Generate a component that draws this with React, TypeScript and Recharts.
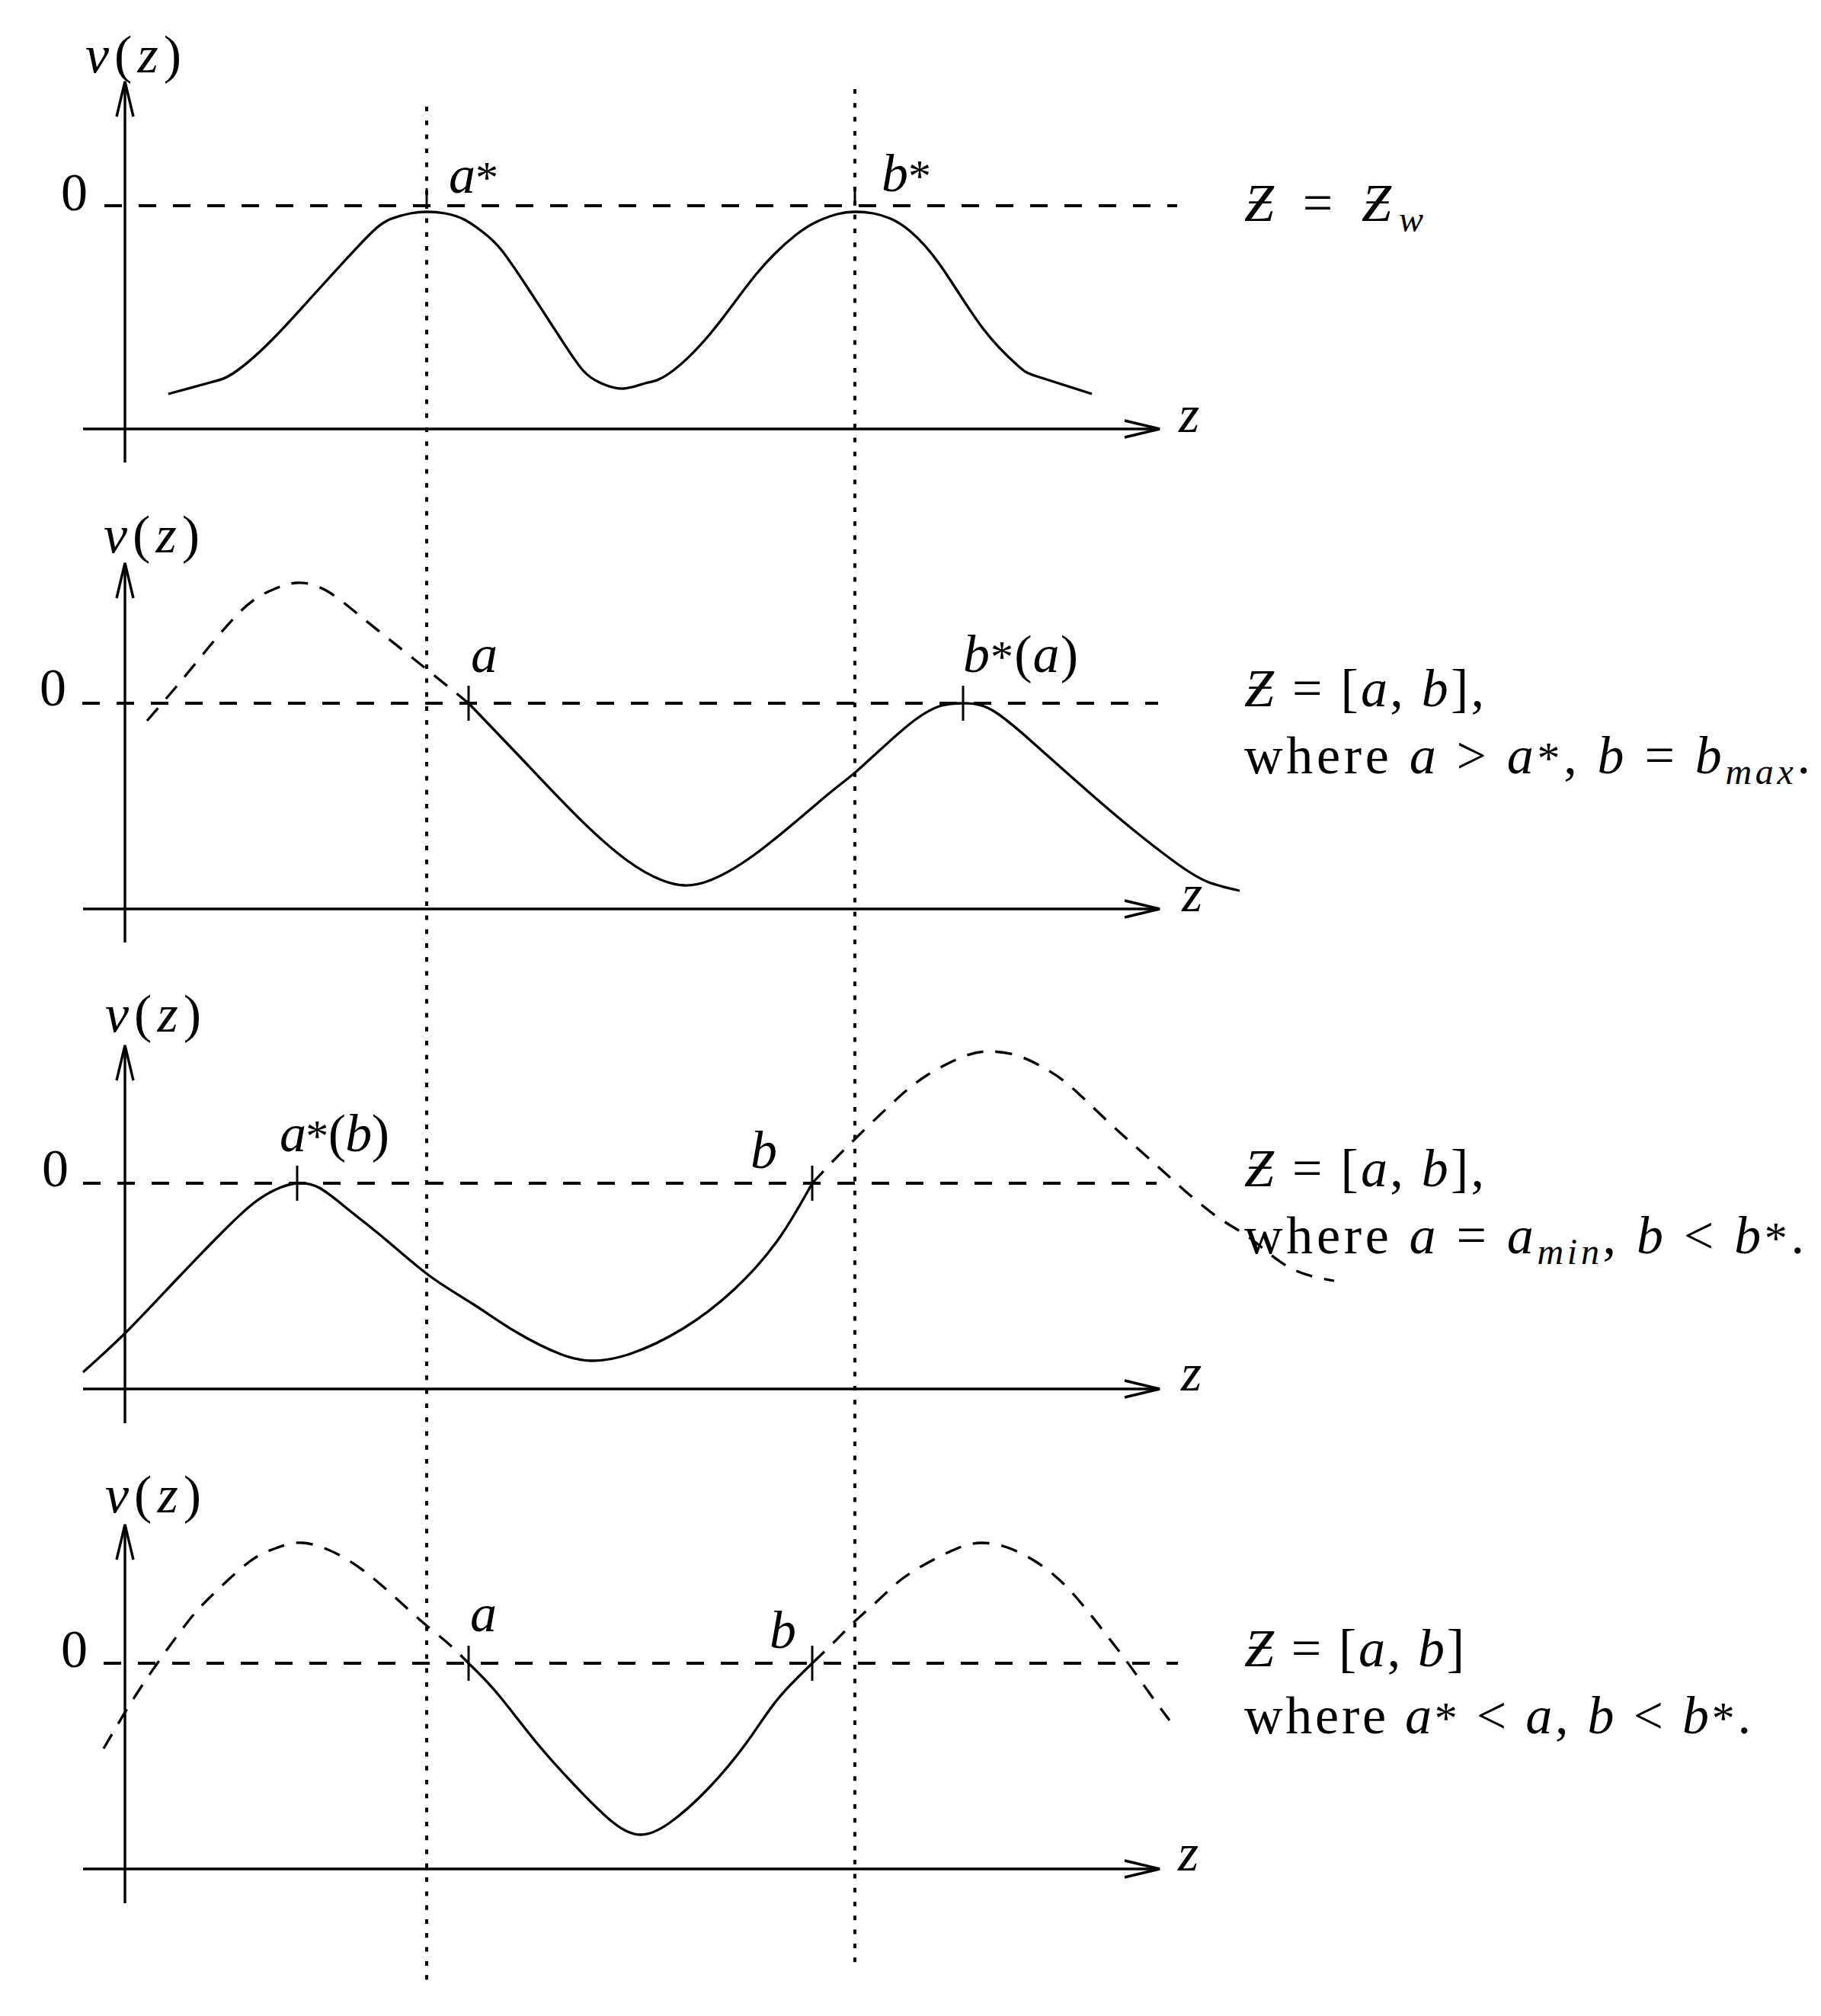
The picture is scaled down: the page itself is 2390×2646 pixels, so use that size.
import React from "react";
import { ComposedChart, Line, XAxis, YAxis, ReferenceLine } from "recharts";

const W = 2390;
const H = 2646;

// z runs along every panel, 0 sits on the v axis
const Z_MIN = -1.64;
const Z_MAX = 22.26;
// one vertical scale for the whole stack, panels are shifted by panelZero
const Y_MIN = -26.46;
const Y_MAX = 0;

const panelZero = [-2.7, -9.23, -15.53, -21.83];

const aStar = 3.96;
const bStar = 9.58;

// panel 1: Z = Z_w
const p1Z = [0.57, 1.12, 1.42, 1.88, 2.44, 2.85, 3.26, 3.5, 3.75, 3.97, 4.2, 4.45, 4.69, 4.94, 5.3, 5.71, 6.01, 6.25, 6.54, 6.83, 7.13, 7.69, 8.3, 8.81, 9.1, 9.35, 9.58, 9.82, 10.05, 10.3, 10.7, 11.26, 11.72, 11.97, 12.69];
const p1V = [-2.47, -2.32, -2.2, -1.81, -1.21, -0.76, -0.33, -0.17, -0.1, -0.08, -0.1, -0.18, -0.34, -0.58, -1.1, -1.73, -2.16, -2.33, -2.4, -2.33, -2.21, -1.67, -0.88, -0.38, -0.2, -0.11, -0.08, -0.1, -0.17, -0.33, -0.78, -1.61, -2.1, -2.24, -2.47];

// panel 2: a > a*, b = b_max
const p2DashZ = [0.29, 0.85, 1.51, 1.94, 2.26, 2.64, 3.13, 3.78, 4.51];
const p2DashV = [-0.23, 0.43, 1.2, 1.49, 1.58, 1.48, 1.11, 0.59, 0];
const p2Z = [4.51, 5.19, 5.95, 6.6, 7.04, 7.34, 7.69, 8.34, 9.21, 9.64, 10.29, 10.72, 11.0, 11.38, 11.92, 12.46, 13.11, 13.76, 14.2, 14.63];
const p2V = [0, -0.71, -1.5, -2.07, -2.32, -2.39, -2.32, -1.93, -1.21, -0.86, -0.28, -0.03, 0, -0.09, -0.52, -1.0, -1.56, -2.07, -2.34, -2.46];

// panel 3: a = a_min, b < b*
const p3Z = [-0.55, 0.02, 0.66, 1.23, 1.69, 2.03, 2.26, 2.55, 2.95, 3.41, 3.99, 4.56, 5.13, 5.71, 6.13, 6.63, 7.32, 8.0, 8.58, 9.02];
const p3V = [-2.48, -1.95, -1.28, -0.69, -0.26, -0.06, 0, -0.06, -0.36, -0.73, -1.21, -1.58, -1.95, -2.24, -2.33, -2.24, -1.91, -1.39, -0.73, 0];
const p3DashZ = [9.02, 9.44, 10.07, 10.53, 11.0, 11.33, 11.7, 12.05, 12.4, 12.88, 13.4, 13.8, 14.32, 14.78, 15.29, 15.87];
const p3DashV = [0, 0.44, 1.05, 1.42, 1.66, 1.73, 1.68, 1.52, 1.28, 0.83, 0.36, 0, -0.43, -0.73, -1.11, -1.28];

// panel 4: a* < a, b < b*
const p4DashLZ = [-0.28, 0.2, 0.76, 1.12, 1.63, 1.98, 2.34, 2.85, 3.36, 3.87, 4.23, 4.51];
const p4DashLV = [-1.12, -0.33, 0.46, 0.87, 1.33, 1.51, 1.58, 1.4, 1.03, 0.57, 0.27, 0];
const p4Z = [4.51, 4.89, 5.4, 5.91, 6.42, 6.78, 7.14, 7.65, 8.16, 8.56, 9.02];
const p4V = [0, -0.4, -1.04, -1.61, -2.1, -2.25, -2.1, -1.65, -1.04, -0.48, 0];
const p4DashRZ = [9.02, 9.31, 9.59, 9.89, 10.19, 10.54, 10.93, 11.24, 11.58, 11.96, 12.28, 12.54, 12.79, 13.03, 13.26, 13.48, 13.71];
const p4DashRV = [0, 0.28, 0.56, 0.83, 1.1, 1.32, 1.51, 1.58, 1.52, 1.33, 1.08, 0.8, 0.49, 0.18, -0.13, -0.44, -0.75];

// marked points on each zero line
const ticks = [
  [aStar, bStar],
  [4.51, 11.0],
  [2.26, 9.02],
  [4.51, 9.02],
];

const vAxisBottom = [-3.37, -3.14, -3.15, -3.15];
const vAxisTop = [1.63, 1.84, 1.81, 1.82];
const zAxisAt = [-2.93, -2.7, -2.7, -2.7];
const zeroFrom = [-0.27, -0.56, -0.55, -0.28];
const zeroTo = [13.81, 13.56, 13.54, 13.82];

const curves = [
  { panel: 0, z: p1Z, v: p1V, dashed: false },
  { panel: 1, z: p2DashZ, v: p2DashV, dashed: true },
  { panel: 1, z: p2Z, v: p2V, dashed: false },
  { panel: 2, z: p3Z, v: p3V, dashed: false },
  { panel: 2, z: p3DashZ, v: p3DashV, dashed: true },
  { panel: 3, z: p4DashLZ, v: p4DashLV, dashed: true },
  { panel: 3, z: p4Z, v: p4V, dashed: false },
  { panel: 3, z: p4DashRZ, v: p4DashRV, dashed: true },
];

const FONT = "'Liberation Serif', 'DejaVu Serif', 'Times New Roman', serif";
const SIZE = 70;

const px = (z: number) => ((z - Z_MIN) / (Z_MAX - Z_MIN)) * W;
const py = (y: number) => ((Y_MAX - y) / (Y_MAX - Y_MIN)) * H;

const arrowShape = (props: any) => {
  const { x1, y1, x2, y2 } = props;
  const dx = x2 - x1;
  const dy = y2 - y1;
  const len = Math.hypot(dx, dy) || 1;
  const ux = dx / len;
  const uy = dy / len;
  const back = 46;
  const half = 11;
  const bx = x2 - ux * back;
  const by = y2 - uy * back;
  const nx = -uy * half;
  const ny = ux * half;
  return (
    <g>
      <line x1={x1} y1={y1} x2={x2} y2={y2} stroke="#000" strokeWidth={3.4} />
      <path
        d={`M${bx + nx},${by + ny} L${x2},${y2} L${bx - nx},${by - ny}`}
        fill="none"
        stroke="#000"
        strokeWidth={3.4}
      />
    </g>
  );
};

const I = ({ children }: { children: React.ReactNode }) => (
  <tspan fontStyle="italic">{children}</tspan>
);
const Star = () => <tspan fontSize={60}>*</tspan>;

function Tex({
  panel,
  z,
  v,
  w,
  children,
}: {
  panel: number;
  z: number;
  v: number;
  w?: number;
  children: React.ReactNode;
}) {
  return (
    <text
      x={px(z)}
      y={py(panelZero[panel] + v)}
      fontFamily={FONT}
      fontSize={SIZE}
      fill="#000"
      style={{ whiteSpace: "pre" }}
      textLength={w}
      lengthAdjust={w ? "spacing" : undefined}
    >
      {children}
    </text>
  );
}

function Labels() {
  const vz = (p: number, z: number, v: number) => (
    <Tex panel={p} z={z} v={v} w={126}>
      <I>v</I>(<I>z</I>)
    </Tex>
  );
  const RZ = 14.69;
  return (
    <svg
      width={W}
      height={H}
      style={{ position: "absolute", left: 0, top: 0, pointerEvents: "none" }}
    >
      {/* panel 1 */}
      {vz(0, -0.52, 1.75)}
      <Tex panel={0} z={-0.84} v={-0.06}>0</Tex>
      <Tex panel={0} z={4.25} v={0.17}><I>a</I><Star /></Tex>
      <Tex panel={0} z={9.93} v={0.19}><I>b</I><Star /></Tex>
      <Tex panel={0} z={13.83} v={-2.97}><I>z</I></Tex>
      <Tex panel={0} z={RZ} v={-0.2} w={235}>
        <I>Ƶ</I> = <I>Ƶ</I>
        <tspan fontStyle="italic" fontSize={48} dy={14}>w</tspan>
      </Tex>

      {/* panel 2 */}
      {vz(1, -0.28, 1.98)}
      <Tex panel={1} z={-1.12} v={-0.03}>0</Tex>
      <Tex panel={1} z={4.54} v={0.41}><I>a</I></Tex>
      <Tex panel={1} z={11.0} v={0.41} w={151}><I>b</I><Star />(<I>a</I>)</Tex>
      <Tex panel={1} z={13.87} v={-2.73}><I>z</I></Tex>
      <Tex panel={1} z={RZ} v={-0.04} w={315}>
        <I>Ƶ</I> = [<I>a</I>, <I>b</I>],
      </Tex>
      <Tex panel={1} z={RZ} v={-0.92} w={743}>
        where <I>a</I> &gt; <I>a</I><Star />, <I>b</I> = <I>b</I>
        <tspan fontStyle="italic" fontSize={48} dy={14}>max</tspan>
        <tspan dy={-14}>.</tspan>
      </Tex>

      {/* panel 3 */}
      {vz(2, -0.26, 1.99)}
      <Tex panel={2} z={-1.09} v={-0.04}>0</Tex>
      <Tex panel={2} z={2.03} v={0.42} w={144}><I>a</I><Star />(<I>b</I>)</Tex>
      <Tex panel={2} z={8.21} v={0.2}><I>b</I></Tex>
      <Tex panel={2} z={13.86} v={-2.72}><I>z</I></Tex>
      <Tex panel={2} z={RZ} v={-0.04} w={315}>
        <I>Ƶ</I> = [<I>a</I>, <I>b</I>],
      </Tex>
      <Tex panel={2} z={RZ} v={-0.92} w={735}>
        where <I>a</I> = <I>a</I>
        <tspan fontStyle="italic" fontSize={48} dy={14}>min</tspan>
        <tspan dy={-14}>, </tspan>
        <I>b</I> &lt; <I>b</I><Star />.
      </Tex>

      {/* panel 4 */}
      {vz(3, -0.26, 1.98)}
      <Tex panel={3} z={-0.84} v={-0.05}>0</Tex>
      <Tex panel={3} z={4.53} v={0.42}><I>a</I></Tex>
      <Tex panel={3} z={8.46} v={0.2}><I>b</I></Tex>
      <Tex panel={3} z={13.82} v={-2.72}><I>z</I></Tex>
      <Tex panel={3} z={RZ} v={-0.04} w={289}>
        <I>Ƶ</I> = [<I>a</I>, <I>b</I>]
      </Tex>
      <Tex panel={3} z={RZ} v={-0.92} w={665}>
        where <I>a</I><Star /> &lt; <I>a</I>, <I>b</I> &lt; <I>b</I><Star />.
      </Tex>
    </svg>
  );
}

export default function App() {
  return (
    <div
      style={{
        position: "absolute",
        left: 0,
        top: 0,
        width: W,
        height: H,
        background: "#fff",
      }}
    >
      <ComposedChart width={W} height={H} margin={{ top: 0, right: 0, bottom: 0, left: 0 }}>
        <XAxis dataKey="z" type="number" domain={[Z_MIN, Z_MAX]} hide allowDataOverflow />
        <YAxis type="number" domain={[Y_MIN, Y_MAX]} hide allowDataOverflow />

        {/* a* and b* guides through all four panels */}
        <ReferenceLine
          segment={[{ x: aStar, y: panelZero[0] + 1.3 }, { x: aStar, y: panelZero[3] - 4.22 }]}
          stroke="#000"
          strokeWidth={4}
          strokeDasharray="6 12.3"
        />
        <ReferenceLine
          segment={[{ x: bStar, y: panelZero[0] + 1.53 }, { x: bStar, y: panelZero[3] - 4.04 }]}
          stroke="#000"
          strokeWidth={4}
          strokeDasharray="6 12.3"
        />

        {panelZero.map((off, i) => (
          <ReferenceLine
            key={`zero${i}`}
            segment={[{ x: zeroFrom[i], y: off }, { x: zeroTo[i], y: off }]}
            stroke="#000"
            strokeWidth={4}
            strokeDasharray="23 22"
          />
        ))}
        {panelZero.map((off, i) => (
          <ReferenceLine
            key={`vax${i}`}
            segment={[{ x: 0, y: off + vAxisBottom[i] }, { x: 0, y: off + vAxisTop[i] }]}
            shape={arrowShape}
          />
        ))}
        {panelZero.map((off, i) => (
          <ReferenceLine
            key={`zax${i}`}
            segment={[{ x: -0.55, y: off + zAxisAt[i] }, { x: 13.58, y: off + zAxisAt[i] }]}
            shape={arrowShape}
          />
        ))}
        {ticks.map((ts, i) =>
          ts.map((t, j) => (
            <ReferenceLine
              key={`tick${i}-${j}`}
              segment={[
                { x: t, y: panelZero[i] + 0.23 },
                { x: t, y: panelZero[i] - (i === 0 ? 0 : 0.23) },
              ]}
              stroke="#000"
              strokeWidth={3}
            />
          ))
        )}

        {curves.map((c, k) => (
          <Line
            key={`curve${k}`}
            data={c.z.map((z, i) => ({ z, y: panelZero[c.panel] + c.v[i] }))}
            dataKey="y"
            type="natural"
            stroke="#000"
            strokeWidth={3.3}
            strokeDasharray={c.dashed ? "22 16" : undefined}
            dot={false}
            activeDot={false}
            isAnimationActive={false}
          />
        ))}
      </ComposedChart>
      <Labels />
    </div>
  );
}
